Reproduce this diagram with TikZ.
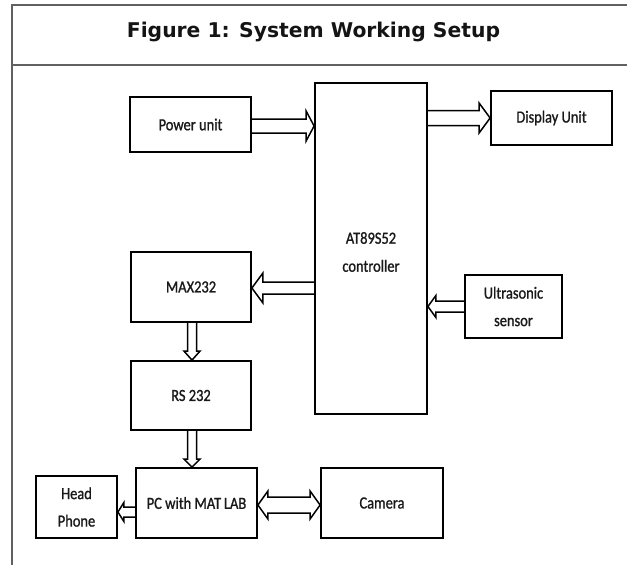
\documentclass[tikz,border=0pt]{standalone}
\usepackage{fontspec}
\newfontfamily\boxfont[FakeStretch=0.85,FakeBold=1.1]{Carlito}
\newfontfamily\titlefont{DejaVu Sans}
\usetikzlibrary{calc}

% hollow block arrow, horizontal: start, end, shaft half width, head half width, head length
\newcommand{\harr}[5]{%
  \draw[blockarrow] let \p1=(#1), \p2=(#2), \n1={ifthenelse(\x2>\x1,1,-1)} in
    ({\x1},{\y1+#3pt}) -- ({\x2-(\n1)*#5pt},{\y1+#3pt}) -- ({\x2-(\n1)*#5pt},{\y1+#4pt})
    -- ({\x2},{\y1}) -- ({\x2-(\n1)*#5pt},{\y1-#4pt}) -- ({\x2-(\n1)*#5pt},{\y1-#3pt})
    -- ({\x1},{\y1-#3pt});}
% hollow block arrow, vertical
\newcommand{\varr}[5]{%
  \draw[blockarrow] let \p1=(#1), \p2=(#2), \n1={ifthenelse(\y2>\y1,1,-1)} in
    ({\x1+#3pt},{\y1}) -- ({\x1+#3pt},{\y2-(\n1)*#5pt}) -- ({\x1+#4pt},{\y2-(\n1)*#5pt})
    -- ({\x1},{\y2}) -- ({\x1-#4pt},{\y2-(\n1)*#5pt}) -- ({\x1-#3pt},{\y2-(\n1)*#5pt})
    -- ({\x1-#3pt},{\y1});}
% hollow block arrow with heads at both ends, horizontal
\newcommand{\dharr}[5]{%
  \draw[blockarrow] let \p1=(#1), \p2=(#2), \n1={ifthenelse(\x2>\x1,1,-1)} in
    ({\x1},{\y1}) -- ({\x1+(\n1)*#5pt},{\y1+#4pt}) -- ({\x1+(\n1)*#5pt},{\y1+#3pt})
    -- ({\x2-(\n1)*#5pt},{\y1+#3pt}) -- ({\x2-(\n1)*#5pt},{\y1+#4pt}) -- ({\x2},{\y1})
    -- ({\x2-(\n1)*#5pt},{\y1-#4pt}) -- ({\x2-(\n1)*#5pt},{\y1-#3pt})
    -- ({\x1+(\n1)*#5pt},{\y1-#3pt}) -- ({\x1+(\n1)*#5pt},{\y1-#4pt}) -- cycle;}

\begin{document}
\begin{tikzpicture}[x=1pt,y=-1pt,
  block/.style={draw=black, line width=1.8pt, inner sep=0pt, align=center,
    text=black!90, font=\boxfont\fontsize{17}{27.5}\selectfont},
  blockarrow/.style={draw=black, line width=1.5pt, line join=miter},
  frame/.style={draw=black!62, line width=1.5pt},
  labeltext/.style={inner sep=0pt, align=center, text=black!90,
    font=\boxfont\fontsize{17}{28}\selectfont}]
\useasboundingbox (0,0) rectangle (627,565);

% frame and title
\draw[frame] (12,565) -- (12,5) -- (627,5);
\draw[frame] (12,65) -- (627,65);
\node[anchor=base, inner sep=0pt, text=black!92,
  font=\titlefont\bfseries\fontsize{20.3}{24}\selectfont] (title) at (313.5,37.5)
  {Figure 1: System Working Setup};

% blocks
\node[block, minimum width=121pt, minimum height=55pt] (pw) at (190.5,124.5) {Power unit};
\node[block, minimum width=112pt, minimum height=331pt] (ctrl) at (371,248.5) {};
\node[labeltext] (ctrltext) at (371,252) {AT89S52\\controller};
\node[block, minimum width=121pt, minimum height=54pt] (disp) at (551.5,118) {Display Unit};
\node[block, minimum width=120pt, minimum height=70pt] (max) at (191,287) {MAX232};
\node[block, minimum width=97pt, minimum height=63pt] (us) at (513.5,306.5) {Ultrasonic\\sensor};
\node[block, minimum width=120pt, minimum height=69pt] (rs) at (191,395.5) {RS 232};
\node[block, minimum width=121pt, minimum height=70pt] (pc) at (196.5,503) {PC with MAT\,LAB};
\node[block, minimum width=81pt, minimum height=62pt] (hp) at (76.5,507) {Head\\Phone};
\node[block, minimum width=122pt, minimum height=70pt] (cam) at (382,503) {Camera};

% connectors
\harr{$(pw.east)+(0,1.5)$}{$(pw.east -| ctrl.west)+(0,1.5)$}{7}{15}{8}
\harr{ctrl.east |- disp.west}{disp.west}{7.5}{15}{11}
\harr{$(ctrl.west |- max.east)+(0,1)$}{$(max.east)+(0,1)$}{6}{15}{11}
\harr{us.west}{us.west -| ctrl.east}{5.5}{11}{8}
\varr{$(max.south)+(1,0)$}{$(max.south |- rs.north)+(1,0)$}{4.5}{8}{9}
\varr{$(rs.south)+(1,0)$}{$(rs.south |- pc.north)+(1,0)$}{4.5}{8}{8}
\harr{$(pc.west |- hp.east)+(0,5)$}{$(hp.east)+(0,5)$}{5}{9.5}{6}
\dharr{$(pc.east)+(0,2)$}{$(cam.west)+(0,2)$}{8}{14}{10}
\end{tikzpicture}
\end{document}
